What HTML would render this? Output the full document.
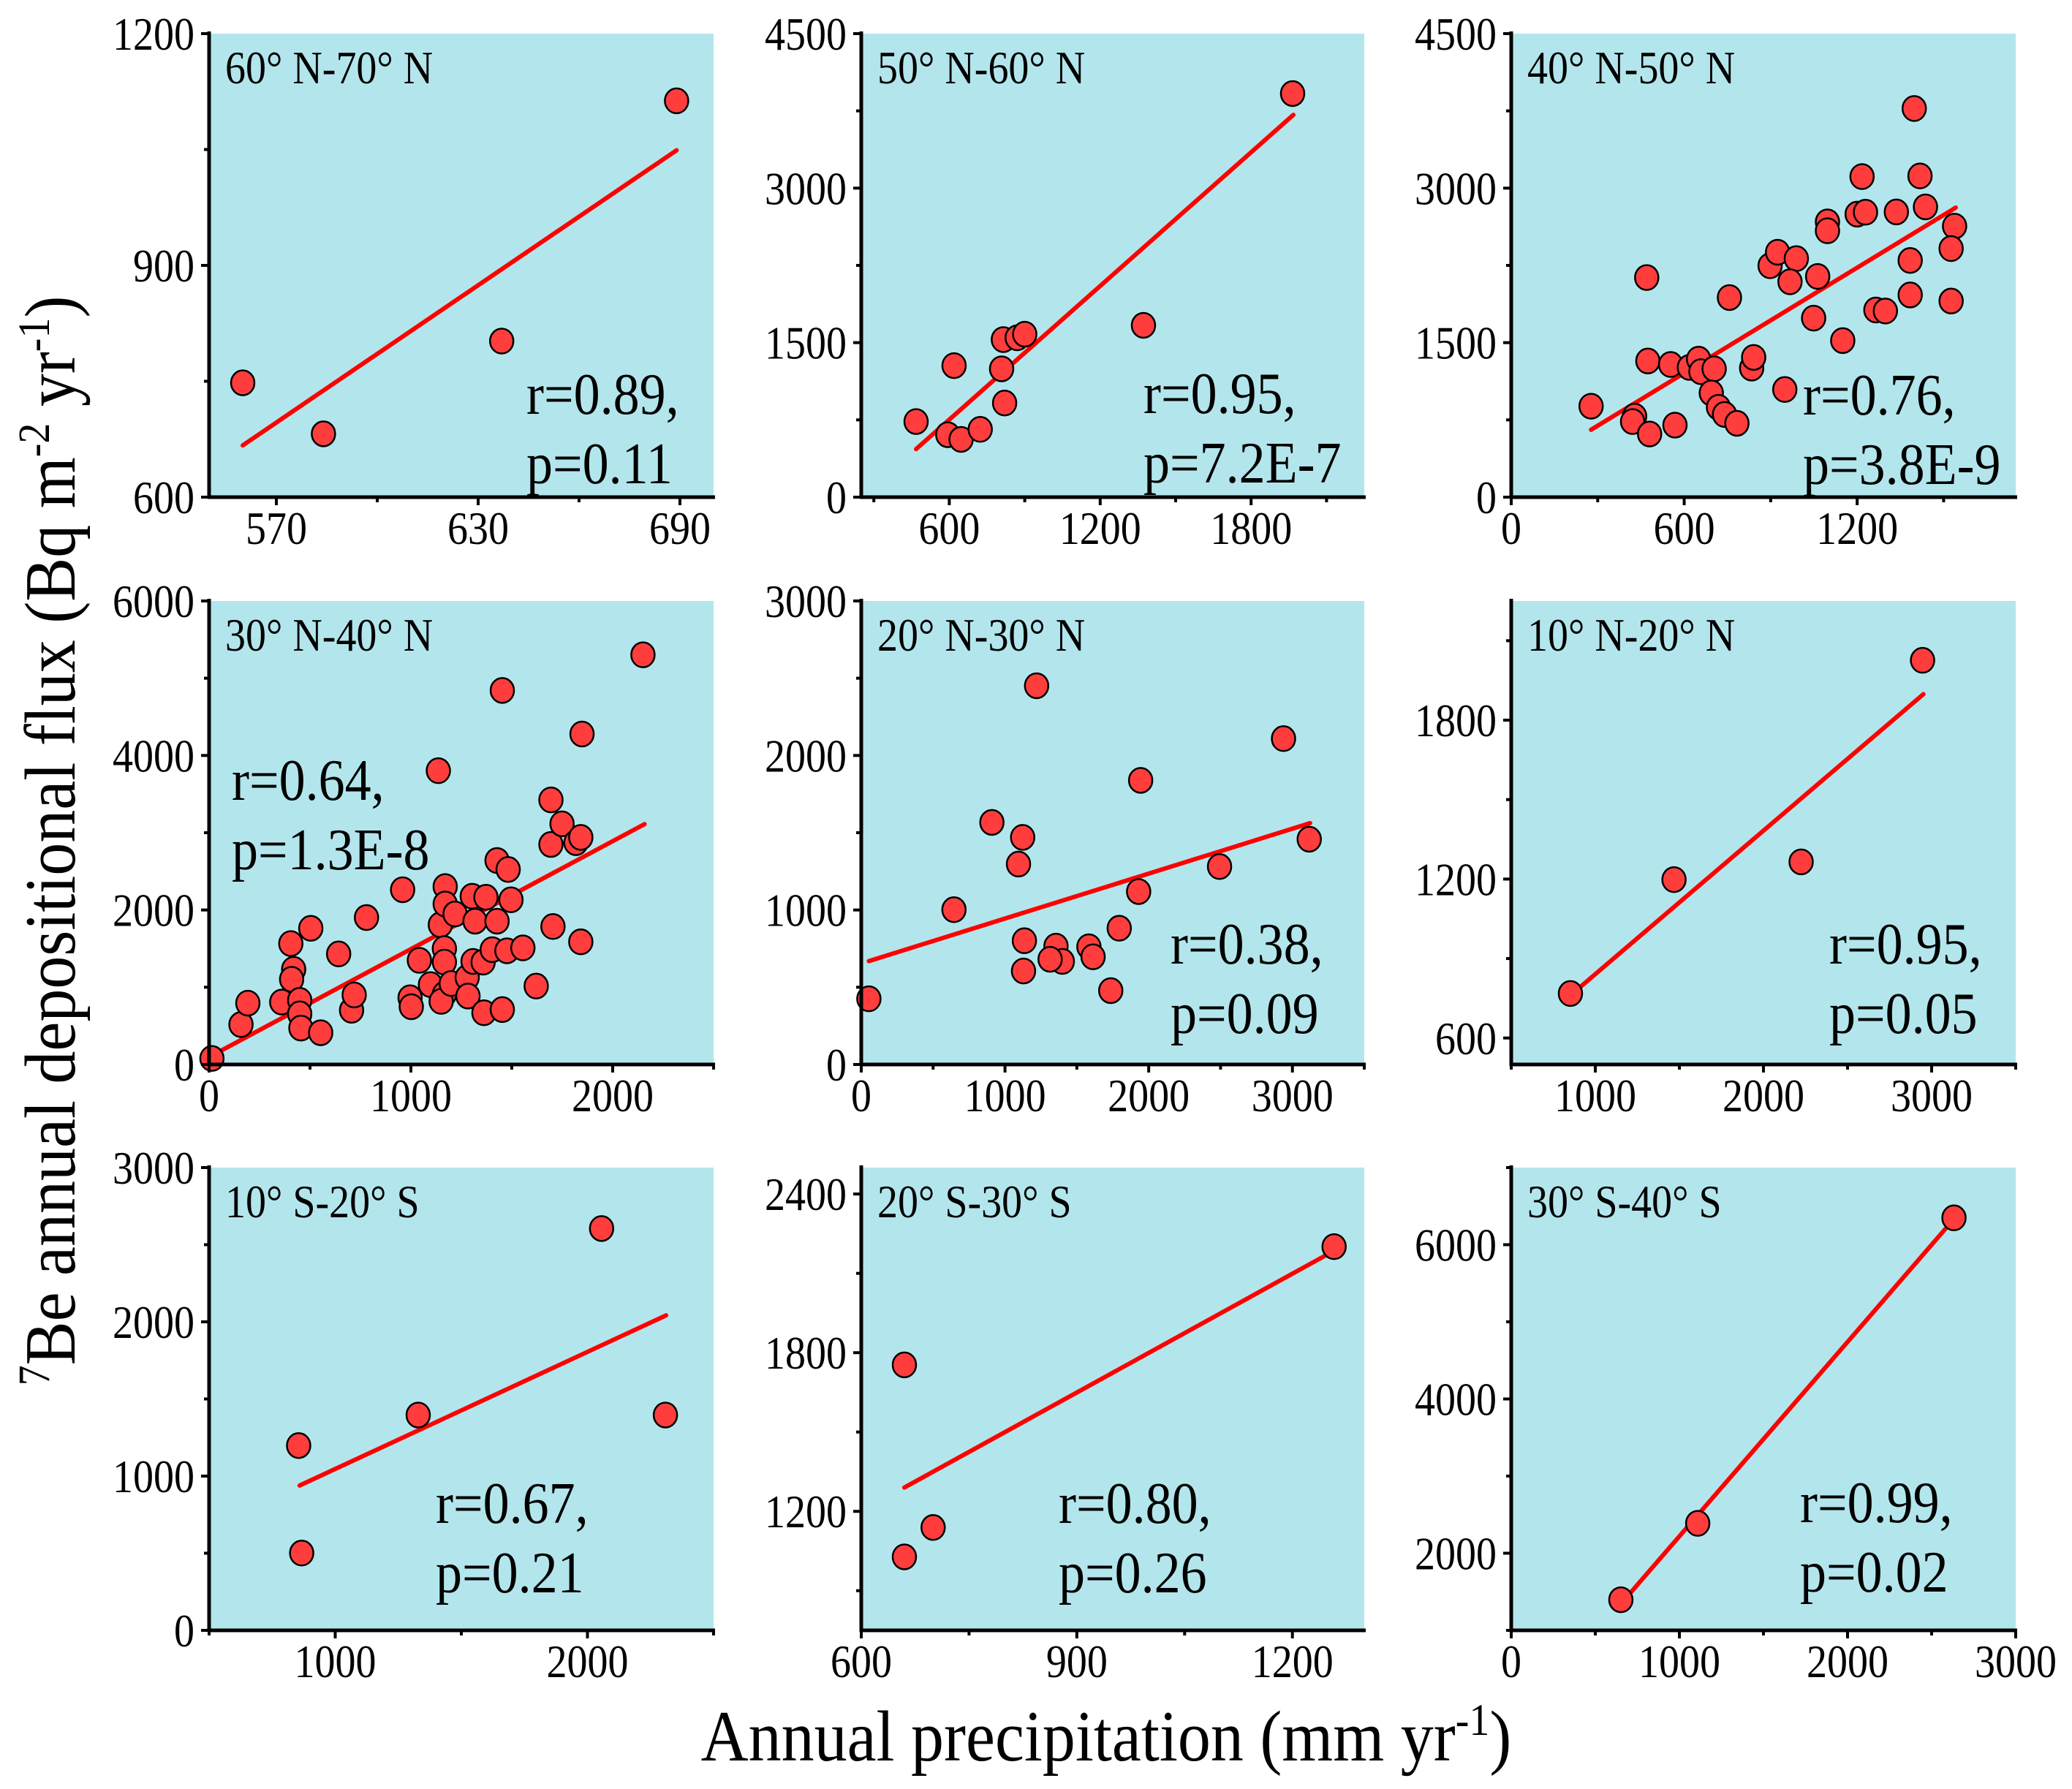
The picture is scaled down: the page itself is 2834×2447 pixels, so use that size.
<!DOCTYPE html>
<html>
<head>
<meta charset="utf-8">
<style>
  html,body{margin:0;padding:0;background:#fff;}
  svg{display:block;font-family:"Liberation Serif","Times New Roman",serif;}
</style>
</head>
<body>
<svg id="chart" xmlns="http://www.w3.org/2000/svg" width="2834" height="2447" viewBox="0 0 2834 2447">
  <rect x="0" y="0" width="2834" height="2447" fill="#ffffff"/>
  <text transform="translate(102,1150) rotate(-90) scale(1,1.1)" text-anchor="middle" font-size="90" fill="#000"><tspan font-size="56" dy="-32">7</tspan><tspan dy="32">Be annual depositional flux (Bq m</tspan><tspan font-size="56" dy="-32">-2</tspan><tspan dy="32"> yr</tspan><tspan font-size="56" dy="-32">-1</tspan><tspan dy="32">)</tspan></text>
  <text transform="translate(1513,2408) scale(1,1.1)" text-anchor="middle" font-size="90" fill="#000">Annual precipitation (mm yr<tspan font-size="56" dy="-32">-1</tspan><tspan dy="32">)</tspan></text>
</svg>
<script>
// ---- Data: annual precipitation (x) and 7Be flux (y) for each latitude band ----
const p1X = [560, 584, 637, 689];
const p1Y = [748, 682, 802, 1113];
const p1FitX = [560, 689];
const p1FitY = [667, 1049];

const p2X = [468, 594, 647, 619, 723, 820, 808, 815, 870, 900, 1372, 1965];
const p2Y = [734, 606, 561, 1277, 658, 914, 1246, 1530, 1547, 1582, 1668, 3918];
const p2FitX = [468, 1968];
const p2FitY = [467, 3711];

const p3X = [277, 428, 421, 480, 470, 474, 553, 568, 618, 650, 658, 704, 694, 719, 740, 783, 757, 834, 841, 949, 898, 924, 989, 967, 1063, 1049, 1150, 1097, 1097, 1200, 1229, 1217, 1336, 1265, 1298, 1384, 1384, 1398, 1418, 1437, 1538, 1526, 1526];
const p3Y = [883, 786, 734, 613, 2132, 1322, 1288, 699, 1260, 1340, 1218, 1246, 1011, 872, 803, 717, 1938, 1253, 1357, 1045, 2247, 2378, 2316, 2091, 2143, 1738, 1520, 2672, 2586, 2748, 2766, 3112, 2769, 1817, 1807, 2298, 1963, 3773, 3119, 2818, 2631, 2413, 1904];
const p3FitX = [277, 1542];
const p3FitY = [654, 2811];

const p4X = [14, 158, 192, 360, 405, 419, 409, 449, 449, 455, 553, 504, 642, 706, 719, 780, 959, 996, 1002, 1042, 1097, 1136, 1146, 1166, 1166, 1166, 1150, 1200, 1170, 1170, 1219, 1279, 1283, 1308, 1304, 1318, 1358, 1362, 1372, 1403, 1427, 1427, 1453, 1453, 1476, 1482, 1496, 1555, 1621, 1694, 1694, 1704, 1749, 1818, 1842, 1842, 1848, 2150];
const p4Y = [78, 517, 794, 808, 1565, 1232, 1103, 831, 655, 471, 411, 1763, 1431, 702, 900, 1902, 2262, 863, 748, 1348, 1034, 3803, 1809, 1500, 1325, 909, 817, 1048, 2303, 2077, 1948, 1126, 886, 1334, 2178, 1855, 1325, 669, 2165, 1486, 1855, 2640, 4842, 711, 1472, 2525, 2132, 1509, 1015, 3425, 2848, 1786, 3115, 2871, 2940, 1588, 4278, 5303];
const p4FitX = [4, 2158];
const p4FitY = [102, 3111];

const p5X = [53, 645, 909, 1123, 1094, 1220, 1135, 1129, 1355, 1399, 1314, 1584, 1613, 1736, 1795, 1944, 1930, 2493, 2938, 3117];
const p5Y = [425, 1002, 1567, 1470, 1297, 2451, 801, 605, 766, 667, 681, 762, 697, 478, 882, 1839, 1119, 1281, 2109, 1458];
const p5FitX = [53, 3123];
const p5FitY = [669, 1562];

const p6X = [852, 1468, 2224, 2946];
const p6Y = [768, 1198, 1265, 2026];
const p6FitX = [852, 2951];
const p6FitY = [761, 1898];

const p7X = [855, 867, 1329, 2056, 2309];
const p7Y = [1198, 501, 1396, 2605, 1396];
const p7FitX = [859, 2312];
const p7FitY = [939, 2042];

const p8X = [660, 700, 660, 1258];
const p8Y = [1754, 1139, 1028, 2201];
const p8FitX = [660, 1259];
const p8FitY = [1290, 2187];

const p9X = [652, 1109, 2633];
const p9Y = [1397, 2387, 6348];
const p9FitX = [652, 2633];
const p9FitY = [1343, 6334];

// ---- Tick labels ----
const p1XTicks = [570, 630, 690];
const p1YTicks = [600, 900, 1200];
const p2XTicks = [600, 1200, 1800];
const p2YTicks = [0, 1500, 3000, 4500];
const p3XTicks = [0, 600, 1200];
const p3YTicks = [0, 1500, 3000, 4500];
const p4XTicks = [0, 1000, 2000];
const p4YTicks = [0, 2000, 4000, 6000];
const p5XTicks = [0, 1000, 2000, 3000];
const p5YTicks = [0, 1000, 2000, 3000];
const p6XTicks = [1000, 2000, 3000];
const p6YTicks = [600, 1200, 1800];
const p7XTicks = [1000, 2000];
const p7YTicks = [0, 1000, 2000, 3000];
const p8XTicks = [600, 900, 1200];
const p8YTicks = [1200, 1800, 2400];
const p9XTicks = [0, 1000, 2000, 3000];
const p9YTicks = [2000, 4000, 6000];

// ---- Titles and statistics ----
const panelTitles = ["60° N-70° N", "50° N-60° N", "40° N-50° N", "30° N-40° N", "20° N-30° N", "10° N-20° N", "10° S-20° S", "20° S-30° S", "30° S-40° S"];
const rValues = ["r=0.89,", "r=0.95,", "r=0.76,", "r=0.64,", "r=0.38,", "r=0.95,", "r=0.67,", "r=0.80,", "r=0.99,"];
const pValues = ["p=0.11", "p=7.2E-7", "p=3.8E-9", "p=1.3E-8", "p=0.09", "p=0.05", "p=0.21", "p=0.26", "p=0.02"];

// ---- Layout (not data) ----
const colL = [286, 1178, 2067];
const colR = [976, 1866, 2757];
const rowT = [46, 822, 1597];
const rowB = [680, 1456, 2230];

const panels = [
  {xs:p1X, ys:p1Y, fx:p1FitX, fy:p1FitY, xt:p1XTicks, yt:p1YTicks, xr:[550,700], yr:[600,1200], xm:30, ym:150, stat:[434,520]},
  {xs:p2X, ys:p2Y, fx:p2FitX, fy:p2FitY, xt:p2XTicks, yt:p2YTicks, xr:[250,2250], yr:[0,4500], xm:300, ym:750, stat:[386,519]},
  {xs:p3X, ys:p3Y, fx:p3FitX, fy:p3FitY, xt:p3XTicks, yt:p3YTicks, xr:[0,1750], yr:[0,4500], xm:300, ym:750, stat:[399,521]},
  {xs:p4X, ys:p4Y, fx:p4FitX, fy:p4FitY, xt:p4XTicks, yt:p4YTicks, xr:[0,2500], yr:[0,6000], xm:500, ym:1000, stat:[31,272]},
  {xs:p5X, ys:p5Y, fx:p5FitX, fy:p5FitY, xt:p5XTicks, yt:p5YTicks, xr:[0,3500], yr:[0,3000], xm:500, ym:500, stat:[423,496]},
  {xs:p6X, ys:p6Y, fx:p6FitX, fy:p6FitY, xt:p6XTicks, yt:p6YTicks, xr:[500,3500], yr:[500,2250], xm:500, ym:300, stat:[435,496]},
  {xs:p7X, ys:p7Y, fx:p7FitX, fy:p7FitY, xt:p7XTicks, yt:p7YTicks, xr:[500,2500], yr:[0,3000], xm:500, ym:500, stat:[310,486]},
  {xs:p8X, ys:p8Y, fx:p8FitX, fy:p8FitY, xt:p8XTicks, yt:p8YTicks, xr:[600,1300], yr:[750,2500], xm:150, ym:300, stat:[270,486]},
  {xs:p9X, ys:p9Y, fx:p9FitX, fy:p9FitY, xt:p9XTicks, yt:p9YTicks, xr:[0,3000], yr:[1000,7000], xm:500, ym:1000, stat:[395,485]}
];

const NS = "http://www.w3.org/2000/svg";
const svg = document.getElementById("chart");
function mk(tag, attrs, parent) {
  const e = document.createElementNS(NS, tag);
  for (const k in attrs) e.setAttribute(k, attrs[k]);
  (parent || svg).appendChild(e);
  return e;
}
function txt(parent, x, y, size, anchor, sy, content) {
  const t = mk("text", {transform:"translate(" + x + "," + y + ") scale(1," + sy + ")", "text-anchor":anchor, "font-size":size, fill:"#000"}, parent);
  t.textContent = content;
  return t;
}

panels.forEach((p, i) => {
  const L = colL[i % 3], R = colR[i % 3], T = rowT[Math.floor(i / 3)], B = rowB[Math.floor(i / 3)];
  const sx = v => L + (v - p.xr[0]) / (p.xr[1] - p.xr[0]) * (R - L);
  const sy = v => B - (v - p.yr[0]) / (p.yr[1] - p.yr[0]) * (B - T);

  const g = mk("g", {});
  
  

  const bg = mk("rect", {x:L, y:T, width:R - L, height:B - T, fill:"#b3e6ec"}, g);
  
  

  const fit = mk("line", {x1:sx(p.fx[0]), y1:sy(p.fy[0]), x2:sx(p.fx[1]), y2:sy(p.fy[1]), stroke:"#ff0000", "stroke-width":6, "stroke-linecap":"round"}, g);
  
  

  p.xs.forEach((xv, j) => {
    const c = mk("ellipse", {cx:sx(xv), cy:sy(p.ys[j]), rx:16, ry:17, fill:"#ff3d3d", stroke:"#000", "stroke-width":2.5}, g);
    
    
  });

  const ya = mk("line", {x1:L, y1:T - 3, x2:L, y2:B + 2, stroke:"#000", "stroke-width":5}, g);
  
  
  const xa = mk("line", {x1:L - 2, y1:B, x2:R + 2, y2:B, stroke:"#000", "stroke-width":5}, g);
  
  

  const xStart = Math.ceil(p.xr[0] / p.xm - 1e-9) * p.xm;
  for (let v = xStart; v <= p.xr[1] + 1e-9; v += p.xm) {
    const major = p.xt.indexOf(v) >= 0;
    const t = mk("line", {x1:sx(v), y1:B, x2:sx(v), y2:B + (major ? 11 : 7), stroke:"#000", "stroke-width":4}, g);
    
    
  }
  p.xt.forEach(v => {
    const t = txt(g, sx(v), B + 64, 56, "middle", 1.14, v);
    
    
  });

  const yStart = Math.ceil(p.yr[0] / p.ym - 1e-9) * p.ym;
  for (let v = yStart; v <= p.yr[1] + 1e-9; v += p.ym) {
    const major = p.yt.indexOf(v) >= 0;
    const t = mk("line", {x1:L - (major ? 11 : 7), y1:sy(v), x2:L, y2:sy(v), stroke:"#000", "stroke-width":4}, g);
    
    
  }
  p.yt.forEach(v => {
    const t = txt(g, L - 20, sy(v) + 22, 56, "end", 1.14, v);
    
    
  });

  const title = txt(g, L + 22, T + 68, 56, "start", 1.14, panelTitles[i]);
  
  

  const rt = txt(g, L + p.stat[0], T + p.stat[1], 72, "start", 1.12, rValues[i]);
  
  

  const pt = txt(g, L + p.stat[0], T + p.stat[1] + 95, 72, "start", 1.12, pValues[i]);
  
  
});
</script>
</body>
</html>
